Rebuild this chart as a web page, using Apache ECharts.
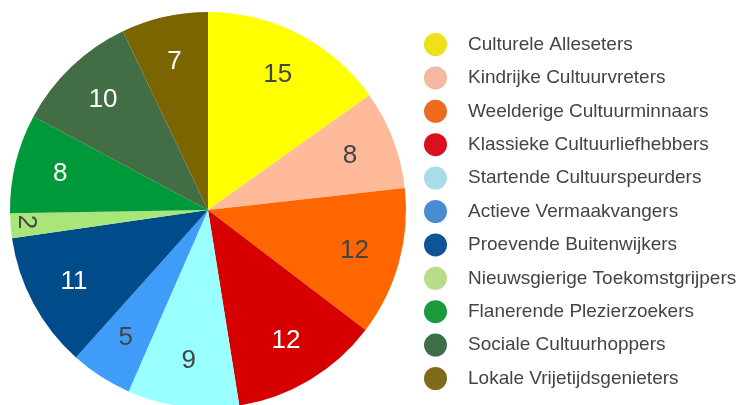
<!DOCTYPE html>
<html>
<head>
<meta charset="utf-8">
<script src="https://cdn.jsdelivr.net/npm/echarts@6/dist/echarts.min.js"></script>
<style>
  html, body { margin: 0; padding: 0; background: #fff; }
  #chart { width: 740px; height: 405px; }
</style>
</head>
<body>
<div id="chart"></div>
<script>
const names = [
  'Culturele Alleseters',
  'Kindrijke Cultuurvreters',
  'Weelderige Cultuurminnaars',
  'Klassieke Cultuurliefhebbers',
  'Startende Cultuurspeurders',
  'Actieve Vermaakvangers',
  'Proevende Buitenwijkers',
  'Nieuwsgierige Toekomstgrijpers',
  'Flanerende Plezierzoekers',
  'Sociale Cultuurhoppers',
  'Lokale Vrijetijdsgenieters'
];
const values = [15, 8, 12, 12, 9, 5, 11, 2, 8, 10, 7];

const sliceColors = ['#FFFF00', '#FFBB99', '#FF6600', '#D60000', '#99FFFF', '#3F9CF9',
  '#004C8A', '#A8E67A', '#00993A', '#436D45', '#7A6500'];
const legendColors = ['#EEE01A', '#F5B8A0', '#EE6A1F', '#D81020', '#A8DCE8', '#4A8CD0',
  '#0F5595', '#B8DC88', '#1A9A3A', '#3D6E46', '#7E6A1A'];
const darkText = [true, true, true, false, true, true, false, true, false, false, false];

const chart = echarts.init(document.getElementById('chart'));

const pieData = names.map((n, i) => ({
  name: n,
  value: values[i],
  itemStyle: { color: sliceColors[i] }
}));

// labels sit on a transparent ring so they land further out than mid-radius
const labelData = names.map((n, i) => {
  const item = {
    name: n,
    value: values[i],
    label: { color: darkText[i] ? '#444' : '#fff' }
  };
  if (values[i] < 3) {
    // thin slice: turn the text and push it outward
    item.label.rotate = -90;
    item.label.offset = [0, 30];
  }
  return item;
});

chart.setOption({
  animation: false,
  legend: {
    orient: 'vertical',
    left: 419,
    top: 28,
    itemWidth: 23,
    itemHeight: 23,
    itemGap: 10.4,
    icon: 'circle',
    selectedMode: false,
    textStyle: {
      fontFamily: 'Liberation Sans, Arial, sans-serif',
      fontSize: 19,
      color: '#444',
      padding: [0, 0, 0, 16]
    },
    data: names.map((n, i) => ({ name: n, itemStyle: { color: legendColors[i] } }))
  },
  series: [
    {
      type: 'pie',
      center: [208, 210],
      radius: 198,
      startAngle: 90,
      clockwise: true,
      silent: true,
      label: { show: false },
      labelLine: { show: false },
      itemStyle: { borderWidth: 0 },
      data: pieData
    },
    {
      type: 'pie',
      center: [208, 210],
      radius: [100, 198],
      startAngle: 90,
      clockwise: true,
      silent: true,
      itemStyle: { color: 'rgba(0,0,0,0)', borderWidth: 0 },
      label: {
        show: true,
        position: 'inside',
        formatter: '{c}',
        fontFamily: 'Liberation Sans, Arial, sans-serif',
        fontSize: 26
      },
      labelLine: { show: false },
      data: labelData
    }
  ]
});
</script>
</body>
</html>
